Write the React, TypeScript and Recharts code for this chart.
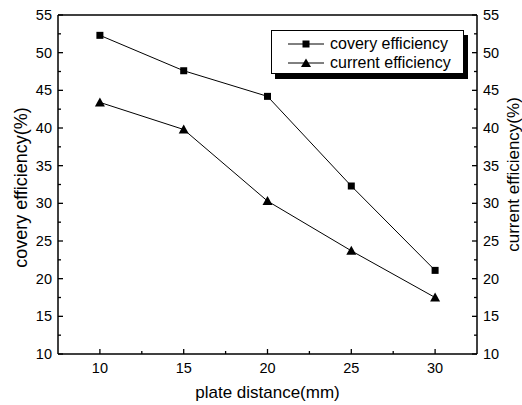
import React from 'react';
import { LineChart, Line, XAxis, YAxis, ReferenceLine } from 'recharts';

const distances = [10, 15, 20, 25, 30];
const coveryEfficiency = [52.3, 47.6, 44.2, 32.3, 21.1];
const currentEfficiency = [43.4, 39.8, 30.3, 23.7, 17.5];

const xMajorTicks = [10, 15, 20, 25, 30];
const xMinorTicks = [12.5, 17.5, 22.5, 27.5];
const yMajorTicks = [10, 15, 20, 25, 30, 35, 40, 45, 50, 55];
const yMinorTicks = [12.5, 17.5, 22.5, 27.5, 32.5, 37.5, 42.5, 47.5, 52.5];

const data = distances.map((d, i) => ({
  distance: d,
  covery: coveryEfficiency[i],
  current: currentEfficiency[i],
}));

const FONT = '"Liberation Sans", Arial, sans-serif';
const TICK_SIZE = 14.5;

const isMajor = (list: number[], v: number) => list.indexOf(v) >= 0;

const BottomTick = (props: any) => {
  const { x, y, payload } = props;
  const major = isMajor(xMajorTicks, payload.value);
  return (
    <g>
      <line x1={x} y1={y} x2={x} y2={y - (major ? 5 : 3)} stroke="#000" strokeWidth={1.3} />
      {major && (
        <text x={x} y={y + 19} textAnchor="middle" fontSize={TICK_SIZE} fontFamily={FONT} fill="#000">
          {payload.value}
        </text>
      )}
    </g>
  );
};

const LeftTick = (props: any) => {
  const { x, y, payload } = props;
  const major = isMajor(yMajorTicks, payload.value);
  return (
    <g>
      <line x1={x} y1={y} x2={x + (major ? 5 : 3)} y2={y} stroke="#000" strokeWidth={1.3} />
      {major && (
        <text x={x - 6} y={y + 5} textAnchor="end" fontSize={TICK_SIZE} fontFamily={FONT} fill="#000">
          {payload.value}
        </text>
      )}
    </g>
  );
};

const RightTick = (props: any) => {
  const { x, y, payload } = props;
  const major = isMajor(yMajorTicks, payload.value);
  return (
    <g>
      <line x1={x} y1={y} x2={x - (major ? 5 : 3)} y2={y} stroke="#000" strokeWidth={1.3} />
      {major && (
        <text x={x + 6} y={y + 5} textAnchor="start" fontSize={TICK_SIZE} fontFamily={FONT} fill="#000">
          {payload.value}
        </text>
      )}
    </g>
  );
};

const SquareDot = (props: any) => {
  const { cx, cy, index } = props;
  return <rect key={`sq-${index}`} x={cx - 3.5} y={cy - 3.5} width={7} height={7} fill="#000" />;
};

const TriangleDot = (props: any) => {
  const { cx, cy, index } = props;
  return (
    <path
      key={`tr-${index}`}
      d={`M${cx},${cy - 5} L${cx + 5},${cy + 4} L${cx - 5},${cy + 4} Z`}
      fill="#000"
    />
  );
};

const legendItems = [
  { name: 'covery efficiency', marker: 'square' },
  { name: 'current efficiency', marker: 'triangle' },
];

const App = () => {
  return (
    <div style={{ position: 'absolute', left: 0, top: 0, width: 522, height: 405 }}>
      <LineChart width={522} height={405} data={data} margin={{ top: 15, right: 0, bottom: 0, left: 0 }}>
        <XAxis
          dataKey="distance"
          type="number"
          domain={[7.5, 32.5]}
          ticks={[...xMajorTicks, ...xMinorTicks]}
          interval={0}
          height={51}
          tickSize={0}
          tickMargin={0}
          tickLine={false}
          tick={<BottomTick />}
          axisLine={{ stroke: '#000', strokeWidth: 1.5 }}
          label={(p: any) => {
            const vb = p.viewBox;
            return (
              <text x={vb.x + vb.width / 2} y={vb.y + 44} textAnchor="middle" fontSize={17} fontFamily={FONT} fill="#000">
                plate distance(mm)
              </text>
            );
          }}
        />
        <YAxis
          yAxisId="left"
          type="number"
          domain={[10, 55]}
          ticks={[...yMajorTicks, ...yMinorTicks]}
          interval={0}
          width={58}
          tickSize={0}
          tickMargin={0}
          tickLine={false}
          tick={<LeftTick />}
          axisLine={{ stroke: '#000', strokeWidth: 1.5 }}
          label={(p: any) => {
            const vb = p.viewBox;
            const cx = vb.x + 21;
            const cy = vb.y + vb.height / 2 + 3;
            return (
              <text x={cx} y={cy} transform={`rotate(-90 ${cx} ${cy})`} textAnchor="middle" dominantBaseline="central" fontSize={18} fontFamily={FONT} fill="#000">
                covery efficiency(%)
              </text>
            );
          }}
        />
        <YAxis
          yAxisId="right"
          orientation="right"
          type="number"
          domain={[10, 55]}
          ticks={[...yMajorTicks, ...yMinorTicks]}
          interval={0}
          width={45}
          tickSize={0}
          tickMargin={0}
          tickLine={false}
          tick={<RightTick />}
          axisLine={{ stroke: '#000', strokeWidth: 1.5 }}
          label={(p: any) => {
            const vb = p.viewBox;
            const cx = vb.x + 36;
            const cy = vb.y + vb.height / 2 - 10;
            return (
              <text x={cx} y={cy} transform={`rotate(-90 ${cx} ${cy})`} textAnchor="middle" dominantBaseline="central" fontSize={17} fontFamily={FONT} fill="#000">
                current efficiency(%)
              </text>
            );
          }}
        />
        <ReferenceLine yAxisId="left" y={55} stroke="#000" strokeWidth={1.5} />
        <Line
          yAxisId="left"
          dataKey="covery"
          stroke="#000"
          strokeWidth={1}
          dot={SquareDot}
          activeDot={false}
          isAnimationActive={false}
        />
        <Line
          yAxisId="right"
          dataKey="current"
          stroke="#000"
          strokeWidth={1}
          dot={TriangleDot}
          activeDot={false}
          isAnimationActive={false}
        />
      </LineChart>
      <div
        style={{
          position: 'absolute',
          left: 271,
          top: 30,
          width: 191,
          height: 42,
          border: '1px solid #000',
          boxShadow: '4px 5px 0 #000',
          background: '#fff',
          fontFamily: FONT,
          fontSize: 16,
        }}
      >
        {legendItems.map((item, i) => (
          <div key={item.name} style={{ position: 'absolute', left: 16, top: 3 + i * 19, height: 19, display: 'flex', alignItems: 'center' }}>
            <svg width={38} height={12} style={{ marginRight: 4 }}>
              <line x1={0} y1={6} x2={36} y2={6} stroke="#000" strokeWidth={1} />
              {item.marker === 'square' ? (
                <rect x={14.5} y={2.5} width={7} height={7} fill="#000" />
              ) : (
                <path d="M18,1.5 L23,10 L13,10 Z" fill="#000" />
              )}
            </svg>
            <span style={{ lineHeight: '19px' }}>{item.name}</span>
          </div>
        ))}
      </div>
    </div>
  );
};

export default App;
